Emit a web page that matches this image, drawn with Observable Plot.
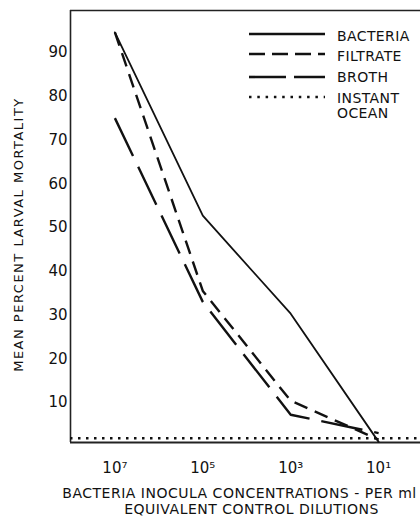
<!DOCTYPE html>
<html><head><meta charset="utf-8">
<script src="https://cdn.jsdelivr.net/npm/d3@7"></script>
<script src="https://cdn.jsdelivr.net/npm/@observablehq/plot@0.6"></script>
<style>
body{margin:0;background:#fff;}
#wrap{position:relative;width:420px;height:518px;overflow:hidden;background:#fff;}
#legend{position:absolute;left:0;top:0;pointer-events:none;}
</style></head><body><div id="wrap"></div>
<script>
// ---- data ----
const exponents = [7, 5, 3, 1];
const xTickLabels = ["10\u2077", "10\u2075", "10\u00B3", "10\u00B9"];
const yTicks = [10, 20, 30, 40, 50, 60, 70, 80, 90];
const bacteria = [94.6, 52.7, 30.3, 1.0];
const filtrate = [94.6, 35.5, 10.4, 1.5];
const broth = [75.0, 33.0, 7.2, 3.0];
const instantOcean = 1.8;
const seriesNames = ["BACTERIA", "FILTRATE", "BROTH"];
const legendLabels = ["BACTERIA", "FILTRATE", "BROTH", "INSTANT", "OCEAN"];
const yTitle = "MEAN PERCENT LARVAL MORTALITY";
const xTitle1 = "BACTERIA INOCULA CONCENTRATIONS - PER ml";
const xTitle2 = "EQUIVALENT CONTROL DILUTIONS";

// ---- build table ----
const seriesValues = [bacteria, filtrate, broth];
const rows = [];
seriesValues.forEach((vals, s) => exponents.forEach((e, i) => rows.push({series: seriesNames[s], exp: e, value: vals[i]})));
const rowsOf = name => rows.filter(r => r.series === name);

const xDomain = [8.01, 0.047];
const yDomain = [0.857, 99.6];
const fmtX = d => xTickLabels[exponents.indexOf(d)];
const font = "DejaVu Sans, sans-serif";

const chart = Plot.plot({
  width: 420, height: 518,
  marginLeft: 70, marginRight: 0, marginTop: 10, marginBottom: 76,
  style: {fontFamily: font, fontSize: "15px", color: "#111", background: "white"},
  x: {domain: xDomain},
  y: {domain: yDomain},
  marks: [
    Plot.axisX({ticks: exponents, tickFormat: fmtX, tickSize: 0, tickPadding: 20, label: null, fontSize: 15}),
    Plot.axisY({ticks: yTicks, tickSize: 0, tickPadding: 3, label: null, fontSize: 15}),
    Plot.ruleX([xDomain[0]], {stroke: "#222", strokeWidth: 1.6}),
    Plot.ruleY([yDomain[1]], {stroke: "#222", strokeWidth: 1.6}),
    Plot.ruleY([yDomain[0]], {stroke: "#222", strokeWidth: 2.2}),
    Plot.ruleY([instantOcean], {stroke: "#111", strokeWidth: 2.5, strokeDasharray: "2.5,5.5"}),
    Plot.line(rowsOf("BACTERIA"), {x: "exp", y: "value", stroke: "#111", strokeWidth: 1.8}),
    Plot.line(rowsOf("FILTRATE"), {x: "exp", y: "value", stroke: "#111", strokeWidth: 2.4, strokeDasharray: "14,8", strokeLinecap: "butt"}),
    Plot.line(rowsOf("BROTH"), {x: "exp", y: "value", stroke: "#111", strokeWidth: 2.4, strokeDasharray: "42,12", strokeLinecap: "butt"}),
    Plot.text([yTitle], {frameAnchor: "left", textAnchor: "middle", lineAnchor: "middle", rotate: -90, dx: -52, dy: 8, fontSize: 13, fill: "#111"}),
    Plot.text([xTitle1], {frameAnchor: "bottom", textAnchor: "middle", lineAnchor: "middle", dx: -6, dy: 51, fontSize: 14, fill: "#111"}),
    Plot.text([xTitle2], {frameAnchor: "bottom", textAnchor: "middle", lineAnchor: "middle", dx: 6, dy: 67, fontSize: 14, fill: "#111"})
  ]
});

d3.select(chart).selectAll("text").each(function() {
  const t = this.textContent;
  if (t === yTitle) d3.select(this).style("letter-spacing", "1.5px");
  if (t === xTitle1 || t === xTitle2) d3.select(this).style("letter-spacing", "0.5px");
});

const wrap = document.getElementById("wrap");
wrap.appendChild(chart);

// ---- legend overlay ----
const legendStyles = [
  {dash: null, width: 2.6},
  {dash: "16,7", width: 2.6},
  {dash: "37,8", width: 2.6},
  {dash: "2.5,5.8", width: 2.5}
];
const lineY = [34, 54, 77, 97];
const textY = [35.5, 55.5, 77, 98, 112.5];
const leg = d3.select(wrap).append("svg").attr("id", "legend").attr("width", 420).attr("height", 518);
legendStyles.forEach((s, i) => {
  leg.append("line").attr("x1", 249).attr("x2", 325).attr("y1", lineY[i]).attr("y2", lineY[i])
    .attr("stroke", "#111").attr("stroke-width", s.width).attr("stroke-dasharray", s.dash);
});
legendLabels.forEach((lab, i) => {
  leg.append("text").attr("x", 337).attr("y", textY[i]).attr("dy", "0.36em")
    .attr("font-family", font).attr("font-size", 14).attr("fill", "#111")
    .style("letter-spacing", "0.4px").text(lab);
});
</script></body></html>
